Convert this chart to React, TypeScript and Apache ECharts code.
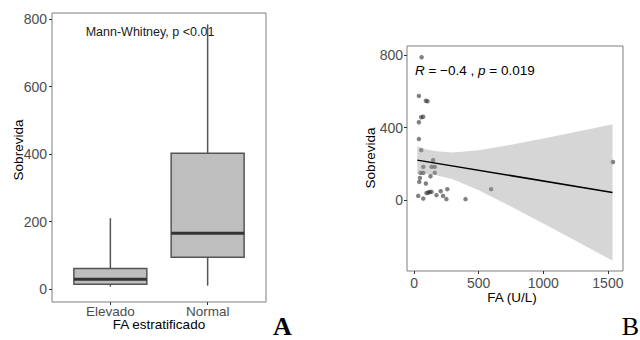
import React, { useEffect, useRef } from "react";
import * as echarts from "echarts";

// Panel A: survival by stratified FA (box summaries)
const groupNames = ["Elevado", "Normal"];
const boxMin = [7, 10];
const boxQ1 = [14, 94];
const boxMedian = [29, 165];
const boxQ3 = [61, 403];
const boxMax = [210, 785];
const leftYTicks = [0, 200, 400, 600, 800];

// Panel B: survival against FA (U/L)
const faValues = [58, 37, 91, 104, 55, 70, 37, 37, 55, 147, 71, 135, 160, 50, 71, 127, 160, 45, 40, 91, 32, 71, 96, 110, 120, 135, 173, 224, 250, 257, 398, 596, 1539, 206];
const survival = [788, 575, 548, 545, 457, 460, 430, 337, 276, 221, 184, 184, 184, 151, 151, 132, 151, 123, 101, 92, 24, 9, 40, 42, 45, 46, 28, 24, 6, 61, 6, 61, 211, 50];
const fitX = [25, 1536];
const fitY = [221, 43];
const bandX = [25, 100, 172, 300, 500, 750, 1000, 1250, 1536];
const bandUpper = [298, 280, 270, 263, 276, 306, 340, 376, 419];
const bandLower = [144, 144, 138, 115, 55, -35, -128, -223, -333];
const rightXTicks = [0, 500, 1000, 1500];
const rightYTicks = [0, 400, 800];

const SANS = "'Liberation Sans', Arial, sans-serif";
const SERIF = "'Liberation Serif', 'Times New Roman', serif";
const TICK_COLOR = "#4d4d4d";

export default function App() {
  const ref = useRef<HTMLDivElement>(null);

  useEffect(() => {
    if (!ref.current) return;
    const chart = echarts.init(ref.current, undefined, { renderer: "svg" });

    const tickStyle = { show: true, length: 3, lineStyle: { color: "#333", width: 1 } };
    const labelStyle = { color: TICK_COLOR, fontSize: 14, fontFamily: SANS };
    const hiddenLine = { show: false, onZero: false };

    const boxData = groupNames.map((_, i) => [i + 1, boxMin[i], boxQ1[i], boxMedian[i], boxQ3[i], boxMax[i]]);

    const option: any = {
      animation: false,
      backgroundColor: "#fff",
      grid: [
        { left: 52, top: 13, width: 214, height: 289, show: true, borderColor: "#7f7f7f", borderWidth: 1, backgroundColor: "transparent" },
        { left: 407, top: 46, width: 216, height: 225, show: true, borderColor: "#7f7f7f", borderWidth: 1, backgroundColor: "transparent" },
      ],
      xAxis: [
        {
          type: "value", gridIndex: 0, min: 0.4, max: 2.6,
          axisLine: hiddenLine, splitLine: { show: false },
          axisTick: { ...tickStyle, customValues: [1, 2] },
          axisLabel: { ...labelStyle, fontSize: 13.5, lineHeight: 12, margin: 3, customValues: [1, 2], formatter: (v: number) => groupNames[Math.round(v) - 1] ?? "" },
        },
        {
          type: "value", gridIndex: 1, min: -55, max: 1617,
          axisLine: hiddenLine, splitLine: { show: false },
          axisTick: { ...tickStyle, customValues: rightXTicks },
          axisLabel: { ...labelStyle, margin: 5, customValues: rightXTicks, formatter: (v: number) => String(v) },
        },
      ],
      yAxis: [
        {
          type: "value", gridIndex: 0, min: -38.6, max: 818.7,
          axisLine: hiddenLine, splitLine: { show: false },
          axisTick: { ...tickStyle, customValues: leftYTicks },
          axisLabel: { ...labelStyle, margin: 5, customValues: leftYTicks, formatter: (v: number) => String(v) },
        },
        {
          type: "value", gridIndex: 1, min: -390, max: 850,
          axisLine: hiddenLine, splitLine: { show: false },
          axisTick: { ...tickStyle, customValues: rightYTicks },
          axisLabel: { ...labelStyle, margin: 4, customValues: rightYTicks, formatter: (v: number) => String(v) },
        },
      ],
      series: [
        {
          type: "custom",
          xAxisIndex: 0, yAxisIndex: 0,
          data: boxData,
          encode: { x: 0, y: [1, 2, 3, 4, 5] },
          z: 3,
          renderItem: (_params: any, api: any) => {
            const x = api.value(0);
            const half = 0.375;
            const pMin = api.coord([x, api.value(1)]);
            const pQ1 = api.coord([x, api.value(2)]);
            const pMed = api.coord([x, api.value(3)]);
            const pQ3 = api.coord([x, api.value(4)]);
            const pMax = api.coord([x, api.value(5)]);
            const l = api.coord([x - half, 0])[0];
            const r = api.coord([x + half, 0])[0];
            const stroke = "#555";
            return {
              type: "group",
              children: [
                { type: "line", shape: { x1: pMax[0], y1: pMax[1], x2: pQ3[0], y2: pQ3[1] }, style: { stroke, lineWidth: 1.5 } },
                { type: "line", shape: { x1: pMin[0], y1: pMin[1], x2: pQ1[0], y2: pQ1[1] }, style: { stroke, lineWidth: 1.5 } },
                { type: "rect", shape: { x: l, y: pQ3[1], width: r - l, height: pQ1[1] - pQ3[1] }, style: { fill: "#bebebe", stroke, lineWidth: 1.5 } },
                { type: "line", shape: { x1: l, y1: pMed[1], x2: r, y2: pMed[1] }, style: { stroke: "#333", lineWidth: 3 } },
              ],
            };
          },
        },
        {
          type: "scatter",
          xAxisIndex: 1, yAxisIndex: 1,
          data: faValues.map((v, i) => [v, survival[i]]),
          symbolSize: 4.5,
          itemStyle: { color: "rgba(45,45,45,0.75)" },
          z: 2,
        },
        {
          type: "custom",
          xAxisIndex: 1, yAxisIndex: 1,
          data: [[bandX[0], bandUpper[0]]],
          z: 3,
          silent: true,
          renderItem: (_params: any, api: any) => {
            const upper = bandX.map((x, i) => api.coord([x, bandUpper[i]]));
            const lower = bandX.map((x, i) => api.coord([x, bandLower[i]])).reverse();
            return {
              type: "polygon",
              shape: { points: upper.concat(lower) },
              style: { fill: "rgba(153,153,153,0.4)" },
            };
          },
        },
        {
          type: "line",
          xAxisIndex: 1, yAxisIndex: 1,
          data: fitX.map((x, i) => [x, fitY[i]]),
          showSymbol: false,
          lineStyle: { color: "#000", width: 1.5 },
          z: 4,
        },
      ],
      graphic: [
        { type: "text", x: 18, y: 150, rotation: Math.PI / 2, style: { text: "Sobrevida", font: `13.5px ${SANS}`, fill: "#000", textAlign: "center", textVerticalAlign: "middle" } },
        { type: "text", x: 159, y: 324.5, style: { text: "FA estratificado", font: `13.5px ${SANS}`, lineHeight: 12, fill: "#000", textAlign: "center", textVerticalAlign: "middle" } },
        { type: "text", x: 150, y: 31.5, style: { text: "Mann-Whitney, p <0.01", font: `12.5px ${SANS}`, fill: "#1a1a1a", textAlign: "center", textVerticalAlign: "middle" } },
        { type: "text", x: 282.5, y: 326, style: { text: "A", font: `bold 26px ${SERIF}`, fill: "#000", textAlign: "center", textVerticalAlign: "middle" } },
        { type: "text", x: 370, y: 158, rotation: Math.PI / 2, style: { text: "Sobrevida", font: `13.5px ${SANS}`, fill: "#000", textAlign: "center", textVerticalAlign: "middle" } },
        { type: "text", x: 512, y: 297, style: { text: "FA (U/L)", font: `13.5px ${SANS}`, fill: "#000", textAlign: "center", textVerticalAlign: "middle" } },
        {
          type: "text", x: 415, y: 70,
          style: {
            text: "{i|R} = \u22120.4 , {i|p} = 0.019",
            font: `13.5px ${SANS}`, fill: "#000", textAlign: "left", textVerticalAlign: "middle",
            rich: { i: { fontStyle: "italic", fontSize: 13.5, fontFamily: SANS, fill: "#000" } },
          },
        },
        { type: "text", x: 630.5, y: 326, style: { text: "B", font: `26px ${SERIF}`, fill: "#000", textAlign: "center", textVerticalAlign: "middle" } },
      ],
    };

    chart.setOption(option);
    return () => chart.dispose();
  }, []);

  return <div ref={ref} style={{ position: "fixed", left: 0, top: 0, width: 640, height: 340 }} />;
}
